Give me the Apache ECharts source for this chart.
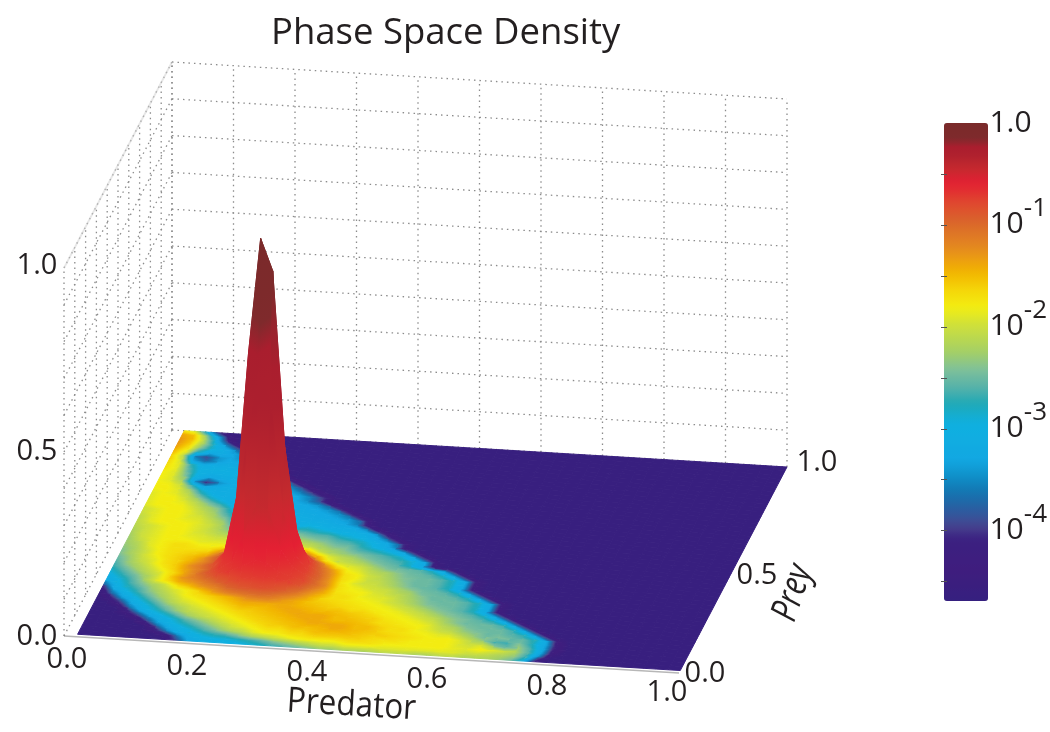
<!DOCTYPE html>
<html>
<head>
    <meta charset="UTF-8">
    <title>Phase Space Density</title>
    <script src="https://cdn.jsdelivr.net/npm/echarts@6/dist/echarts.min.js"></script>
    <style>
        html, body { margin: 0; background: #fff; }
        #chart { width: 1050px; height: 732px; }
    </style>
</head>
<body>
    <div id="chart"></div>
    <script>
        // tick labels
        var predatorTicks = [0, 0.2, 0.4, 0.6, 0.8, 1];
        var preyTicks = [0, 0.5, 1];
        var heightTicks = [0, 0.5, 1];
        var wallTicks = [0, 0.1, 0.2, 0.3, 0.4, 0.5, 0.6, 0.7, 0.8, 0.9, 1];
        var barTicks = [0, -1, -2, -3, -4];
        var barMinorTicks = [-0.5, -1, -1.5, -2, -2.5, -3, -3.5, -4, -4.5];

        // colour bar, read from top to bottom: log10 density and colour
        var barLogs = [0, -0.16, -0.18, -0.3, -0.45, -0.58, -0.77, -0.97, -1.23, -1.46, -1.66, -1.81, -1.98, -2.25, -2.42, -2.62, -2.75, -2.94, -3.3, -3.47, -3.63, -3.82, -3.95, -4.08, -4.38, -4.69];
        var barColors = ['#7a2a2a', '#7f2a2c', '#a81e2e', '#ad1f2e', '#c42a2e', '#e41e33', '#e0452f', '#d9652b', '#e58a1f', '#f2b400', '#f5d90a', '#f3ee12', '#cfe03a', '#a4cf66', '#7fc09a', '#4fb0ac', '#1fa9b5', '#0fb0e0', '#12a8e2', '#0f8fc8', '#1474b0', '#2e5a9e', '#47458f', '#3b2080', '#3f1d7e', '#35207f'];

        // log10 density, one row per prey step (front to back), predator steps left to right.
        // a row stops where the floor value starts
        var logDensityRows = [
            [-4.6,-4.6,-4.6,-4.6,-4.6,-4.6,-4.6,-4.6,-4.0,-3.4,-3.1,-3.1,-3.0,-3.0,-2.9,-2.8,-2.7,-2.6,-2.5,-2.4,-2.3,-2.3,-2.2,-2.2,-2.2,-2.1,-2.1,-2.1,-2.2,-2.2,-2.1,-2.1,-2.2,-2.2,-2.2,-2.3,-2.5,-3.0,-4.4],
            [-4.6,-4.6,-4.6,-4.6,-4.6,-4.6,-4.6,-4.4,-3.7,-3.1,-3.0,-2.9,-2.9,-2.8,-2.7,-2.6,-2.4,-2.3,-2.2,-2.1,-2.0,-2.0,-1.9,-1.9,-1.9,-1.9,-1.9,-1.9,-1.9,-1.9,-1.9,-1.9,-2.0,-2.0,-2.1,-2.2,-2.3,-2.7,-3.6],
            [-4.6,-4.6,-4.6,-4.6,-4.6,-4.6,-4.3,-3.6,-3.1,-3.0,-2.8,-2.7,-2.6,-2.4,-2.2,-2.1,-2.0,-1.9,-1.8,-1.8,-1.8,-1.8,-1.7,-1.7,-1.7,-1.8,-1.8,-1.8,-1.8,-1.8,-1.8,-1.9,-1.9,-1.8,-1.9,-2.0,-2.2,-2.6,-3.2,-4.4],
            [-4.6,-4.6,-4.6,-4.6,-4.6,-4.6,-3.8,-3.2,-3.0,-2.8,-2.6,-2.4,-2.2,-2.1,-1.9,-1.8,-1.8,-1.7,-1.7,-1.6,-1.6,-1.6,-1.6,-1.6,-1.7,-1.7,-1.7,-1.8,-1.8,-1.8,-1.8,-1.9,-2.0,-1.9,-2.3,-2.6,-2.3,-2.6,-3.2,-4.2],
            [-4.6,-4.6,-4.6,-4.6,-4.6,-4.0,-3.3,-3.0,-2.8,-2.6,-2.4,-2.2,-2.0,-1.9,-1.8,-1.7,-1.7,-1.6,-1.6,-1.5,-1.5,-1.5,-1.5,-1.6,-1.6,-1.6,-1.7,-1.7,-1.8,-1.8,-1.8,-1.9,-2.1,-2.3,-2.7,-2.6,-2.4,-2.8,-3.2,-4.2],
            [-4.6,-4.6,-4.6,-4.6,-4.2,-3.5,-3.1,-2.9,-2.6,-2.4,-2.2,-2.0,-1.9,-1.8,-1.7,-1.6,-1.6,-1.5,-1.5,-1.5,-1.4,-1.4,-1.5,-1.5,-1.6,-1.7,-1.7,-1.8,-1.8,-1.9,-1.9,-2.1,-2.3,-2.5,-2.4,-2.5,-2.6,-2.7,-3.2,-4.4],
            [-4.6,-4.6,-4.6,-4.3,-3.6,-3.1,-2.9,-2.6,-2.3,-2.1,-2.0,-1.9,-1.8,-1.7,-1.6,-1.6,-1.5,-1.5,-1.4,-1.4,-1.4,-1.4,-1.5,-1.5,-1.6,-1.7,-1.7,-1.8,-1.9,-2.0,-2.1,-2.3,-2.4,-2.5,-2.5,-2.6,-2.7,-3.2,-4.4],
            [-4.6,-4.6,-4.6,-3.8,-3.1,-2.9,-2.6,-2.3,-2.1,-2.0,-1.9,-1.8,-1.7,-1.6,-1.6,-1.5,-1.5,-1.4,-1.4,-1.4,-1.5,-1.5,-1.5,-1.6,-1.7,-1.7,-1.8,-1.8,-1.9,-2.1,-2.2,-2.4,-2.5,-2.5,-2.5,-2.7,-3.2,-4.4],
            [-4.6,-4.6,-4.2,-3.3,-3.0,-2.7,-2.4,-2.2,-2.0,-1.9,-1.8,-1.7,-1.6,-1.6,-1.5,-1.5,-1.4,-1.4,-1.4,-1.4,-1.5,-1.5,-1.6,-1.6,-1.7,-1.8,-1.8,-1.9,-2.0,-2.2,-2.4,-2.5,-2.5,-2.5,-2.7,-3.2,-4.4],
            [-4.6,-4.4,-3.6,-3.1,-2.8,-2.5,-2.2,-2.0,-1.9,-1.8,-1.7,-1.6,-1.5,-1.5,-1.5,-1.4,-1.4,-1.4,-1.5,-1.5,-1.5,-1.6,-1.6,-1.7,-1.8,-1.8,-1.9,-2.0,-2.1,-2.3,-2.4,-2.5,-2.6,-2.8,-3.2,-4.4],
            [-4.6,-3.9,-3.2,-2.9,-2.6,-2.3,-2.1,-1.9,-1.8,-1.7,-1.6,-1.5,-1.4,-1.4,-1.4,-1.4,-1.4,-1.5,-1.5,-1.6,-1.6,-1.7,-1.7,-1.8,-1.8,-1.9,-2.0,-2.1,-2.3,-2.4,-2.5,-2.6,-2.8,-3.2,-4.4],
            [-4.5,-3.4,-3.0,-2.7,-2.4,-2.2,-2.0,-1.8,-1.7,-1.6,-1.5,-1.4,-1.25,-1.2,-1.2,-1.3,-1.4,-1.5,-1.6,-1.6,-1.7,-1.7,-1.8,-1.8,-1.9,-2.0,-2.1,-2.3,-2.4,-2.5,-2.6,-2.8,-3.2,-4.4],
            [-4.0,-3.1,-2.8,-2.6,-2.3,-2.1,-1.9,-1.8,-1.6,-1.35,-1.2,-1.1,-1.05,-1.0,-1.05,-1.15,-1.25,-1.4,-1.6,-1.7,-1.7,-1.8,-1.8,-1.9,-2.0,-2.1,-2.3,-2.4,-2.5,-2.5,-2.6,-2.8,-3.2,-4.4],
            [-3.4,-3.0,-2.7,-2.4,-2.2,-2.0,-1.7,-1.5,-1.3,-1.2,-1.0,-0.9,-0.85,-0.8,-0.85,-0.95,-1.1,-1.3,-1.45,-1.7,-1.7,-1.8,-1.9,-1.9,-2.0,-2.2,-2.3,-2.5,-2.5,-2.5,-2.6,-2.8,-3.2,-4.4],
            [-3.1,-2.9,-2.6,-2.3,-1.9,-1.7,-1.4,-1.3,-1.15,-1.0,-0.85,-0.75,-0.72,-0.7,-0.72,-0.74,-0.9,-1.15,-1.35,-1.7,-1.8,-1.8,-1.9,-2.0,-2.1,-2.2,-2.4,-2.5,-2.5,-2.6,-2.8,-3.2,-4.4],
            [-3.0,-2.7,-2.5,-2.2,-2.0,-1.6,-1.3,-1.15,-1.0,-0.76,-0.71,-0.66,-0.62,-0.63,-0.69,-0.73,-0.78,-1.0,-1.25,-1.7,-1.8,-1.9,-2.0,-2.0,-2.2,-2.3,-2.5,-2.5,-2.6,-2.8,-3.2,-4.4],
            [-2.8,-2.6,-2.3,-2.1,-1.9,-1.7,-1.4,-1.1,-0.85,-0.73,-0.66,-0.525,-0.45,-0.46,-0.58,-0.68,-0.76,-1.0,-1.3,-1.7,-1.9,-2.0,-2.0,-2.2,-2.3,-2.5,-2.5,-2.6,-2.8,-3.2,-4.4],
            [-2.7,-2.4,-2.2,-2.0,-1.8,-1.6,-1.35,-1.15,-0.9,-0.68,-0.52,-0.35,-0.24,-0.28,-0.47,-0.62,-0.74,-0.95,-1.3,-1.7,-1.8,-2.0,-2.1,-2.2,-2.4,-2.5,-2.5,-2.6,-2.8,-3.2,-4.4],
            [-2.6,-2.3,-2.1,-1.9,-1.7,-1.6,-1.3,-1.1,-0.85,-0.66,-0.455,-0.22,0,-0.09,-0.355,-0.535,-0.73,-1.0,-1.3,-1.7,-1.8,-2.0,-2.1,-2.3,-2.4,-2.5,-2.5,-2.6,-2.8,-3.2,-4.4],
            [-2.5,-2.3,-2.0,-1.9,-1.7,-1.6,-1.45,-1.2,-0.95,-0.7,-0.56,-0.35,-0.19,-0.24,-0.44,-0.6,-0.74,-1.05,-1.4,-1.8,-1.9,-2.1,-2.2,-2.3,-2.5,-2.5,-2.6,-2.8,-3.2,-4.4],
            [-2.4,-2.2,-2.0,-1.8,-1.7,-1.6,-1.5,-1.3,-0.9,-0.73,-0.64,-0.52,-0.41,-0.42,-0.56,-0.68,-0.8,-1.2,-1.8,-1.9,-2.0,-2.2,-2.4,-2.5,-2.5,-2.6,-2.8,-3.2,-4.4],
            [-2.4,-2.2,-2.0,-1.8,-1.7,-1.65,-1.6,-1.5,-1.1,-0.78,-0.71,-0.64,-0.58,-0.6,-0.68,-0.74,-1.1,-1.8,-2.0,-2.1,-2.2,-2.4,-2.5,-2.6,-2.9,-3.3,-4.4],
            [-2.3,-2.2,-1.9,-1.8,-1.7,-1.7,-1.7,-1.7,-1.4,-1.0,-0.78,-0.73,-0.69,-0.71,-0.74,-1.0,-1.5,-1.9,-2.1,-2.2,-2.4,-2.5,-2.6,-2.7,-2.9,-3.3,-4.5],
            [-2.3,-2.1,-1.9,-1.8,-1.7,-1.7,-1.8,-1.8,-1.8,-1.5,-1.2,-1.0,-0.95,-1.0,-1.2,-1.5,-2.0,-2.2,-2.3,-2.4,-2.5,-2.6,-2.7,-2.9,-3.3,-4.4],
            [-2.3,-2.0,-1.9,-1.8,-1.8,-1.8,-1.9,-1.9,-1.9,-1.9,-1.8,-1.5,-1.4,-1.5,-1.9,-2.0,-2.2,-2.3,-2.4,-2.6,-2.7,-2.8,-3.0,-3.3,-4.4],
            [-2.2,-2.0,-1.9,-1.8,-1.8,-1.9,-1.9,-2.0,-2.0,-2.0,-2.0,-2.0,-2.0,-2.0,-2.1,-2.2,-2.3,-2.5,-2.5,-2.7,-2.9,-3.1,-3.5,-4.5],
            [-2.2,-2.0,-1.9,-1.8,-1.8,-1.9,-2.0,-2.1,-2.2,-2.1,-2.2,-2.2,-2.2,-2.3,-2.3,-2.4,-2.5,-2.6,-2.7,-2.8,-3.0,-3.2,-3.7,-4.5],
            [-2.1,-2.0,-1.9,-1.8,-1.8,-1.9,-2.0,-2.2,-2.4,-2.3,-2.4,-2.4,-2.4,-2.4,-2.5,-2.6,-2.6,-2.8,-2.9,-3.0,-3.2,-3.7,-4.5],
            [-2.1,-1.9,-1.8,-1.8,-1.8,-1.9,-2.0,-2.2,-2.6,-2.8,-2.6,-2.7,-2.6,-2.7,-2.7,-2.8,-2.9,-3.0,-3.0,-3.1,-3.5,-4.4],
            [-2.1,-1.9,-1.8,-1.8,-1.9,-1.9,-2.1,-2.3,-2.8,-3.0,-3.1,-2.9,-2.9,-3.0,-2.9,-3.0,-3.1,-3.1,-3.2,-3.6,-4.4],
            [-2.0,-1.9,-1.8,-1.8,-1.9,-2.0,-2.2,-2.5,-2.9,-3.1,-3.0,-3.0,-3.0,-3.1,-3.1,-3.1,-3.2,-3.3,-3.6,-4.4],
            [-2.0,-1.9,-1.8,-1.8,-1.9,-2.1,-2.3,-2.7,-3.0,-3.1,-3.1,-3.1,-3.1,-3.1,-3.2,-3.2,-3.3,-3.4,-3.7,-4.5],
            [-1.9,-1.8,-1.8,-1.8,-2.0,-2.2,-2.4,-2.8,-3.1,-3.2,-3.1,-3.1,-3.1,-3.2,-3.2,-3.3,-3.4,-3.7,-4.5],
            [-1.9,-1.8,-1.8,-1.9,-2.1,-2.4,-2.7,-3.0,-3.1,-3.1,-3.1,-3.1,-3.2,-3.2,-3.3,-3.4,-3.7,-4.5],
            [-1.9,-1.8,-1.8,-2.0,-2.3,-2.7,-3.0,-3.1,-3.1,-3.1,-3.1,-3.2,-3.2,-3.3,-3.4,-3.8,-4.5],
            [-1.9,-1.8,-1.9,-2.1,-2.6,-3.0,-3.1,-3.1,-3.1,-3.1,-3.1,-3.2,-3.3,-3.5,-3.9,-4.5],
            [-1.8,-1.8,-1.9,-2.3,-2.9,-3.1,-3.1,-3.1,-3.0,-3.1,-3.1,-3.2,-3.3,-3.6,-4.0,-4.5],
            [-1.8,-1.8,-2.0,-2.7,-3.3,-3.2,-3.1,-3.1,-3.0,-3.1,-3.2,-3.3,-3.6,-4.0,-4.5],
            [-1.8,-1.9,-2.2,-3.4,-4.1,-3.5,-3.2,-3.1,-3.1,-3.2,-3.3,-3.5,-3.9,-4.5],
            [-1.8,-1.9,-2.4,-3.1,-3.4,-3.2,-3.1,-3.1,-3.1,-3.2,-3.4,-3.9,-4.5],
            [-1.8,-1.9,-2.5,-3.0,-3.1,-3.1,-3.0,-3.1,-3.2,-3.4,-3.9,-4.5],
            [-1.7,-1.9,-2.6,-3.0,-3.0,-3.0,-3.1,-3.2,-3.4,-3.9,-4.5],
            [-1.7,-1.9,-2.7,-3.1,-3.1,-3.1,-3.2,-3.4,-3.7,-4.1,-4.5],
            [-1.6,-2.0,-3.3,-3.7,-3.4,-3.2,-3.3,-3.6,-4.0,-4.5],
            [-1.6,-2.1,-3.6,-3.9,-3.4,-3.3,-3.5,-3.9,-4.5],
            [-1.5,-1.9,-2.8,-3.2,-3.2,-3.3,-3.6,-4.3],
            [-1.4,-1.7,-2.4,-2.9,-3.1,-3.5,-4.2],
            [-1.3,-1.6,-2.2,-2.8,-3.4,-4.2],
            [-1.3,-1.5,-2.1,-3.0,-4.1],
            [-1.4,-1.5,-2.3,-3.3,-4.3],
            [-1.7,-2.0,-3.0,-4.2]
        ];
        var floorLog = -4.6;
        var steps = 50;

        // box projection, the view is orthographic
        function project(p, q, z) {
            return [64 + 615 * p + 108 * q, 636 + 37 * p - 206 * q - 368 * z];
        }
        function logAt(i, j) {
            var v = logDensityRows[j][i];
            return v === undefined ? floorLog : v;
        }
        function heightOf(log) {
            return 0.9 * Math.pow(10, 0.241 * log - 2.71 * log * log);
        }
        function colorAt(log) {
            if (log >= 0) return barColors[0];
            for (var k = 1; k < barLogs.length; k++) {
                if (log >= barLogs[k]) {
                    var t = (barLogs[k - 1] - log) / (barLogs[k - 1] - barLogs[k]);
                    return echarts.color.lerp(t, [barColors[k - 1], barColors[k]]);
                }
            }
            return barColors[barColors.length - 1];
        }
        function surfacePoint(i, j) {
            return project(0.02 + 0.98 * i / steps, 0.012 + 0.988 * j / steps, heightOf(logAt(i, j)));
        }

        // cells back to front
        var cells = [];
        for (var j = steps - 1; j >= 0; j--) {
            for (var i = 0; i < steps; i++) {
                var mean = (logAt(i, j) + logAt(i + 1, j) + logAt(i + 1, j + 1) + logAt(i, j + 1)) / 4;
                cells.push([i, j, mean]);
            }
        }

        var wallLines = [];
        wallTicks.forEach(function (t) {
            wallLines.push([t, 1, 0, t, 1, 1]);    // back wall, upright
            wallLines.push([0, 1, t, 1, 1, t]);    // back wall, across
            wallLines.push([0, t, 0, 0, t, 1]);    // left wall, upright
            wallLines.push([0, 0, t, 0, 1, t]);    // left wall, across
        });

        var preyOffsets = [[26, 1], [24, 6], [30, -4]];
        var labels = [];
        predatorTicks.forEach(function (t) {
            labels.push({ text: t.toFixed(1), at: project(t, 0, 0), dx: 3 - 15 * t, dy: 24 - 4 * t, font: 29 });
        });
        preyTicks.forEach(function (t, k) {
            labels.push({ text: t.toFixed(1), at: project(1, t, 0), dx: preyOffsets[k][0], dy: preyOffsets[k][1], font: 29 });
        });
        heightTicks.forEach(function (t) {
            labels.push({ text: t.toFixed(1), at: project(0, 0, t), dx: -27, dy: 1 - 3 * t, font: 29 });
        });
        labels.push({ text: 'Predator', at: project(0.5, 0, 0), dx: -20, dy: 51, font: 35, rotation: -0.06, scaleX: 0.9 });
        labels.push({ text: 'Prey', at: project(1, 0.5, 0), dx: 60, dy: 23, font: 37, rotation: 1.25, scaleX: 0.8, italic: true });

        var barPalette = [];
        for (var n = 0; n <= 60; n++) {
            barPalette.push(colorAt(-4.69 * (60 - n) / 60));
        }

        function renderWall(params, api) {
            var a = api.coord(project(api.value(0), api.value(1), api.value(2)));
            var b = api.coord(project(api.value(3), api.value(4), api.value(5)));
            return {
                type: 'line',
                shape: { x1: a[0], y1: a[1], x2: b[0], y2: b[1] },
                style: { stroke: '#8c8c8c', lineWidth: 1.3, lineDash: [1.5, 4] }
            };
        }

        function renderCell(params, api) {
            var i = api.value(0), j = api.value(1), mean = api.value(2);
            var l00 = logAt(i, j), l10 = logAt(i + 1, j), l11 = logAt(i + 1, j + 1), l01 = logAt(i, j + 1);
            var p00 = api.coord(surfacePoint(i, j)), p10 = api.coord(surfacePoint(i + 1, j));
            var p11 = api.coord(surfacePoint(i + 1, j + 1)), p01 = api.coord(surfacePoint(i, j + 1));
            var fill = api.visual('color');

            // colour runs across the cell along the slope of the corner values
            var gs = (l10 + l11 - l00 - l01) / 2, gt = (l01 + l11 - l00 - l10) / 2;
            var range = Math.abs(gs) + Math.abs(gt);
            var ax = (p10[0] + p11[0] - p00[0] - p01[0]) / 2, ay = (p10[1] + p11[1] - p00[1] - p01[1]) / 2;
            var bx = (p01[0] + p11[0] - p00[0] - p10[0]) / 2, by = (p01[1] + p11[1] - p00[1] - p10[1]) / 2;
            var det = ax * by - ay * bx;
            if (range > 0.02 && Math.abs(det) > 1) {
                var gx = (gs * by - gt * ay) / det, gy = (gt * ax - gs * bx) / det;
                var len = gx * gx + gy * gy;
                var cx = (p00[0] + p10[0] + p11[0] + p01[0]) / 4, cy = (p00[1] + p10[1] + p11[1] + p01[1]) / 4;
                var half = range / 2;
                var stops = [];
                for (var s = 0; s <= 6; s++) {
                    stops.push({ offset: s / 6, color: colorAt(mean - half + 2 * half * s / 6) });
                }
                fill = {
                    type: 'linear', global: true,
                    x: cx - gx / len * half, y: cy - gy / len * half,
                    x2: cx + gx / len * half, y2: cy + gy / len * half,
                    colorStops: stops
                };
            }
            return {
                type: 'polygon',
                shape: { points: [p00, p10, p11, p01] },
                style: { fill: fill, stroke: fill, lineWidth: 1 }
            };
        }

        function renderLabel(params, api) {
            var l = labels[params.dataIndex];
            var c = api.coord(l.at);
            return {
                type: 'text',
                x: c[0] + l.dx,
                y: c[1] + l.dy,
                rotation: l.rotation || 0,
                scaleX: l.scaleX || 1,
                style: {
                    text: l.text,
                    fill: '#231f20',
                    align: 'center',
                    verticalAlign: 'middle',
                    font: (l.italic ? 'italic ' : '') + l.font + 'px "Open Sans"'
                }
            };
        }

        var chart = echarts.init(document.getElementById('chart'));
        chart.setOption({
            animation: false,
            title: {
                text: 'Phase Space Density',
                left: 271,
                top: 15,
                padding: 0,
                textStyle: { fontFamily: 'Open Sans', fontWeight: 'normal', fontSize: 36.5, color: '#231f20' }
            },
            grid: [
                { left: 0, right: 0, top: 0, bottom: 0 },
                { left: 944, top: 123, width: 44, height: 478 }
            ],
            xAxis: [
                { type: 'value', min: 0, max: 1050, show: false },
                { type: 'value', gridIndex: 1, min: 0, max: 1, show: false }
            ],
            yAxis: [
                { type: 'value', min: 0, max: 732, inverse: true, show: false },
                {
                    type: 'value', gridIndex: 1, min: -4.69, max: 0, position: 'right', z: 10,
                    splitLine: { show: false },
                    axisLine: { show: false },
                    axisTick: { inside: true, length: 3, customValues: barMinorTicks, lineStyle: { color: '#555' } },
                    axisLabel: {
                        customValues: barTicks,
                        margin: 5,
                        formatter: function (v) {
                            return v === 0 ? '{b|1.0}' : '{b|10}{s|' + v + '}';
                        },
                        rich: {
                            b: { fontFamily: 'Open Sans', fontSize: 30, color: '#231f20', lineHeight: 58 },
                            s: { fontFamily: 'Open Sans', fontSize: 26, color: '#231f20', verticalAlign: 'top', lineHeight: 22 }
                        }
                    }
                },
                {
                    type: 'value', gridIndex: 1, min: -4.69, max: 0, position: 'left', z: 10,
                    splitLine: { show: false },
                    axisLine: { show: false },
                    axisLabel: { show: false },
                    axisTick: { inside: true, length: 3, customValues: barMinorTicks, lineStyle: { color: '#555' } }
                }
            ],
            visualMap: {
                type: 'continuous',
                seriesIndex: 2,
                dimension: 2,
                min: -4.69,
                max: 0,
                left: 944,
                top: 123,
                padding: 0,
                itemWidth: 44,
                itemHeight: 478,
                text: null,
                calculable: false,
                showLabel: false,
                inRange: { color: barPalette }
            },
            series: [
                {
                    type: 'custom', silent: true, z: 1, clip: false, renderItem: renderWall,
                    data: wallLines
                },
                {
                    // solid edges of the box
                    type: 'lines', coordinateSystem: 'cartesian2d', silent: true, z: 1,
                    polyline: false, symbol: 'none',
                    data: [
                        { coords: [project(0, 0, 0), project(1, 0, 0)], lineStyle: { color: '#6f6f6f', width: 1.6 } },
                        { coords: [project(0, 0, 1), project(0, 1, 1)], lineStyle: { color: '#cfcfcf', width: 1.8 } }
                    ]
                },
                {
                    type: 'custom', silent: true, z: 2, clip: false, progressive: 0, renderItem: renderCell,
                    encode: { x: 0, y: 1 },
                    data: cells
                },
                {
                    type: 'custom', silent: true, z: 3, clip: false, renderItem: renderLabel,
                    data: labels.map(function (l, k) { return [k]; })
                }
            ]
        });
    </script>
</body>
</html>
